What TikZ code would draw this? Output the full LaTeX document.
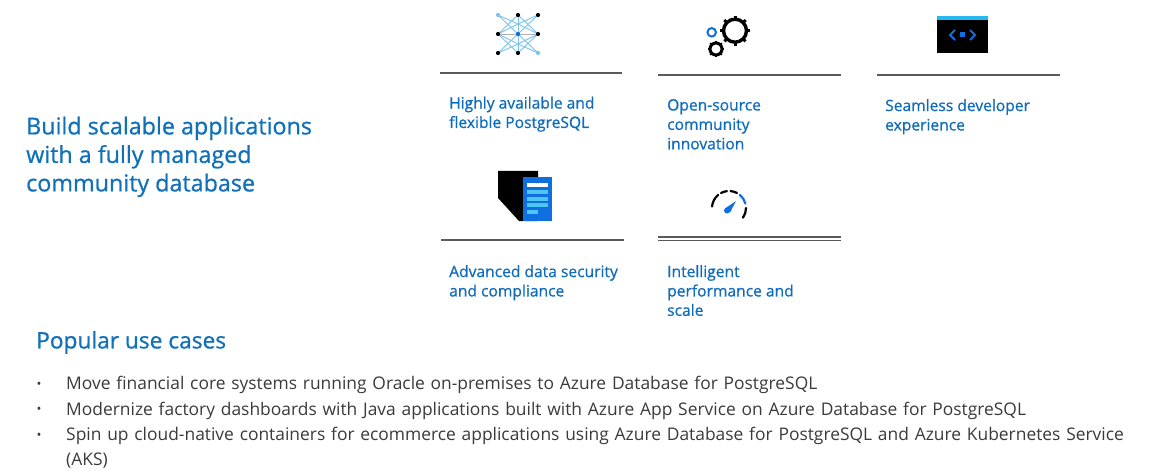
\documentclass[tikz,border=0pt]{standalone}
\usepackage{fontspec}
\setmainfont{Open Sans}
\newfontfamily\semifont[FakeBold=0.8]{Open Sans}
\usetikzlibrary{positioning, calc}
\definecolor{azuretext}{HTML}{0F6CBD}
\definecolor{azurehead}{HTML}{1070B8}
\definecolor{azureblue}{HTML}{0F6FE0}
\definecolor{netblue}{HTML}{7CC4EE}
\definecolor{ruleblack}{HTML}{5A5A5E}
\definecolor{bodytext}{HTML}{3A3A3A}
\tikzset{
	headline/.style={anchor=north west, inner sep=0pt, align=left, text=azurehead, font=\semifont\fontsize{23.3}{28.5}\selectfont},
	usecases/.style={anchor=north west, inner sep=0pt, text=azurehead, font=\semifont\fontsize{22.7}{26}\selectfont},
	feature/.style={anchor=north west, inner sep=0pt, align=left, text=azuretext, font=\semifont\fontsize{15.6}{19.4}\selectfont},
	bullet/.style={anchor=north west, inner sep=0pt, align=left, text=bodytext, text width=1075pt, font=\fontsize{17.4}{25}\selectfont, execute at begin node=\strut},
	dot/.style={anchor=base, inner sep=0pt, text=bodytext, font=\fontsize{13}{13}\selectfont},
	rulerline/.style={draw=ruleblack, line width=1.7pt},
	net/.style={netblue, line width=0.9pt},
	netnode/.style={circle, fill=black, inner sep=0pt, minimum size=4.2pt},
	gear/.style={draw=black, circle, inner sep=0pt},
}
\begin{document}
\begin{tikzpicture}[x=1pt, y=-1pt]
	\useasboundingbox (0,0) rectangle (1154,476);
	% Define text
	\node[headline] (build) at (26,116.5) {Build scalable applications\\with a fully managed\\community database};
	\node[feature] (avail) at (449,96.5) {Highly available and\\flexible PostgreSQL};
	\node[feature] (open) at (667,99) {Open-source\\community\\innovation};
	\node[feature] (seam) at (885,99) {Seamless developer\\experience};
	\node[feature] (secure) at (449,265) {Advanced data security\\and compliance};
	\node[feature] (perf) at (667,265) {Intelligent\\performance and\\scale};
	\node[usecases] (popular) at (36,331) {Popular use cases};
	\node[bullet] (case1) at (66,372) {Move financial core systems running Oracle on-premises to Azure Database for PostgreSQL};
	\node[bullet, below=0pt of case1.south west, anchor=north west] (case2) {Modernize factory dashboards with Java applications built with Azure App Service on Azure Database for PostgreSQL};
	\node[bullet, below=0pt of case2.south west, anchor=north west] (case3) {Spin up cloud-native containers for ecommerce applications using Azure Database for PostgreSQL and Azure Kubernetes Service (AKS)};
	\node[dot] (dot1) at (39,388) {•};
	\node[dot] (dot2) at (39,413) {•};
	\node[dot] (dot3) at (39,439) {•};
	% Draw rules
	\coordinate (r1a) at (440,73);
	\coordinate (r1b) at (622,73);
	\coordinate (r2a) at (658,75);
	\coordinate (r2b) at (841,75);
	\coordinate (r3a) at (877,75);
	\coordinate (r3b) at (1060,75);
	\coordinate (r4a) at (441,240);
	\coordinate (r4b) at (624,240);
	\coordinate (r5a) at (658,237);
	\coordinate (r5b) at (841,237);
	\coordinate (r6a) at (658,240.5);
	\coordinate (r6b) at (841,240.5);
	\draw[rulerline] (r1a) -- (r1b);
	\draw[rulerline] (r2a) -- (r2b);
	\draw[rulerline] (r3a) -- (r3b);
	\draw[rulerline] (r4a) -- (r4b);
	\draw[rulerline, line width=1.2pt] (r5a) -- (r5b);
	\draw[rulerline, line width=1.2pt] (r6a) -- (r6b);
	% Network icon
	\foreach \nx/\ny/\nname in {498/15/a, 518/15/b, 538/15/c, 498/34/d, 518/34/e, 538/34/f, 498/53/g, 518/53/h, 538/53/i, 518/24/j, 518/44/k}
		\coordinate (n\nname) at (\nx,\ny);
	\foreach \na/\nb in {a/i, c/g, b/d, b/f, h/d, h/f, b/h, a/j, c/j, g/k, i/k, d/j, f/j, d/k, f/k}
		\draw[net] (n\na) -- (n\nb);
	\draw[gray!60, line width=0.9pt] (nd) -- (nf);
	\foreach \nname in {b, c, d, f, g, h}
		\node[netnode] at (n\nname) {};
	\node[netnode, fill=netblue] at (na) {};
	\node[netnode, fill=netblue] at (ni) {};
	\node[netnode, fill=azureblue] at (ne) {};
	% Gears icon
	\node[gear, line width=3.4pt, minimum size=23pt] (gearbig) at (735,30.7) {};
	\node[gear, line width=3pt, minimum size=12pt] (gearsmall) at (716,49) {};
	\node[gear, draw=azureblue, line width=2pt, minimum size=8.5pt] (gearblue) at (711.7,32.3) {};
	\foreach \a in {0,45,...,315}
		\draw[black, line width=3pt] ($(gearbig)+(\a:12)$) -- ($(gearbig)+(\a:15)$);
	\foreach \a in {0,45,...,315}
		\draw[black, line width=2pt] ($(gearsmall)+(\a:6.5)$) -- ($(gearsmall)+(\a:8.3)$);
	% Console icon
	\fill[black] (937,16) rectangle (988,53);
	\fill[cyan!85!white] (937,16) rectangle (988,20.5);
	\draw[azureblue, line width=1.8pt] (955,30) -- (950,35) -- (955,40);
	\draw[azureblue, line width=1.8pt] (970,30) -- (975,35) -- (970,40);
	\fill[azureblue] (960,32.5) rectangle (965,37.5);
	% Shield icon
	\fill[black] (498,171) -- (538,171) -- (538,221) -- (519,221) -- (498,198) -- cycle;
	\fill[azureblue] (523,177) rectangle (552,221);
	\fill[white] (527,183) rectangle (548,187);
	\foreach \by in {190,197,203}
		\fill[cyan!70!white] (527,\by) rectangle (548,\by+4.3);
	\fill[cyan!70!white] (527,210) rectangle (538,214.3);
	% Gauge icon
	\coordinate (gaugec) at (729,208);
	\draw[black, line width=2.2pt, line cap=round] ($(gaugec)+(-175:17)$) arc (-175:-130:17);
	\draw[black, line width=2.2pt, line cap=round] ($(gaugec)+(-118:17)$) arc (-118:-97:17);
	\draw[black, line width=2.2pt, line cap=round] ($(gaugec)+(-85:17)$) arc (-85:-62:17);
	\draw[azureblue, line width=2.2pt, line cap=round] ($(gaugec)+(-50:17)$) arc (-50:-15:17);
	\draw[black, line width=2.2pt, line cap=round] ($(gaugec)+(0:17)$) arc (0:35:17);
	\fill[azureblue] (727,210.5) circle (3pt);
	\fill[azureblue] (725,208.5) -- (736,201) -- (730,212.5) -- cycle;
\end{tikzpicture}
\end{document}
